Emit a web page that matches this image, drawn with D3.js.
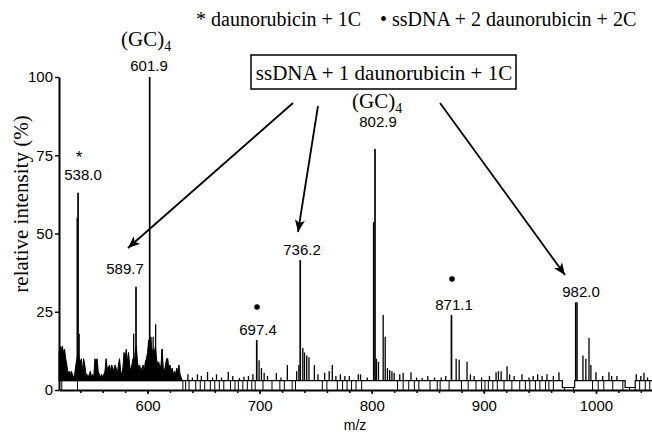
<!DOCTYPE html>
<html>
<head>
<meta charset="utf-8">
<script src="https://cdn.jsdelivr.net/npm/d3@7/dist/d3.min.js"></script>
<style>
  body { margin: 0; background: #fff; }
  .sans { font-family: "Liberation Sans", Arial, sans-serif; }
  .serif { font-family: "Liberation Serif", "Times New Roman", serif; }
</style>
</head>
<body>
<svg id="chart"></svg>
<script>
const width = 652;
const height = 433;

// labelled peaks: [m/z, intensity %, label]
const peaks = [
  [538.0, 63, "538.0"],
  [589.7, 33, "589.7"],
  [601.9, 100, "601.9"],
  [697.4, 16, "697.4"],
  [736.2, 41.5, "736.2"],
  [802.9, 77, "802.9"],
  [871.1, 24, "871.1"],
  [982.0, 28, "982.0"]
];

// dense profile from m/z 521 to 631, one value per unit
const denseStart = 521;
const dense = [
  12, 14, 13, 14, 12, 13, 10, 8,
  5, 6, 5, 6, 5, 4, 5,
  8, 10, 12, 10,
  9, 10, 6, 10, 8, 5,
  5, 4, 5, 6, 4, 5, 4,
  10, 9, 10, 6,
  5, 4, 5, 4, 5, 6,
  10, 7,
  7, 8, 6, 8, 7, 6, 8, 7, 5,
  8, 10, 6,
  5, 7,
  12, 10, 13, 9, 12, 8,
  6, 8,
  10, 8, 12, 14, 9,
  7, 8, 6, 7, 8, 6, 9,
  10, 12, 16, 14, 17, 12, 13,
  12, 14, 10,
  8, 9, 7, 8,
  13,
  7, 6, 8, 10,
  10, 7, 8,
  6, 7, 5, 6, 5,
  7, 6, 8, 5, 4, 3
];

// smaller peaks: [m/z, intensity %]
const sticks = [
  [537.2, 55], [539.0, 18], [587.6, 18], [605.0, 17], [607.2, 21], [613.0, 13],
  [636, 5], [640, 4], [644.5, 5], [648, 4.5], [653.5, 5.8], [658, 4], [661.5, 5],
  [666, 4], [672, 5.8], [676, 4.5], [682, 3.8], [686, 4.2], [690, 4.5], [694, 5],
  [699.5, 9.5], [701.6, 7], [704, 5.5], [707, 4.5], [714.9, 5.4], [719, 4],
  [724.7, 8], [733, 6], [735, 8], [738.5, 13.4], [740, 12], [742, 11], [744, 10.5],
  [748.8, 8], [752, 5], [758, 5.5], [762, 6], [764.8, 8], [768, 4.5], [772, 5],
  [776, 4.5], [780, 4.5], [788, 5], [790, 5], [796, 4], [801.6, 53.7], [804.2, 10],
  [806, 9], [810.2, 24], [812, 17], [814, 7], [816, 6.4], [818, 6], [820, 5.5],
  [825, 5], [828, 5.5], [835, 5.7], [840, 4], [845, 3.8], [850, 4.5], [856, 4],
  [862, 4], [866, 4.5], [875.3, 10], [878, 9.7], [885, 9], [888, 5], [891.3, 4.5],
  [898, 4], [905, 4.5], [910.9, 5.7], [913, 6], [915.4, 6], [920.7, 7.6], [923, 5],
  [927, 4.5], [934, 5], [940.3, 4], [944, 4.5], [948, 5], [952, 4.5], [956.3, 5],
  [962, 4.5], [967, 5.7], [983.2, 28], [988.4, 11], [991, 10], [993.8, 16.6],
  [995.5, 8], [1000, 5.7], [1006, 4.5], [1011.6, 5.7], [1014, 4.5], [1018.7, 4.5],
  [1036, 5], [1040, 4.5], [1042.8, 5.5], [1046, 4]
];

// places where the trace drops to zero
const dips = [
  523.5, 537.5, 631.5, 634, 637, 643, 647, 651, 656, 660, 664, 668, 674, 678, 681,
  685, 689, 693, 696, 703, 711, 718, 722, 729, 732, 755.9, 760, 769.3, 774, 778,
  782, 786, 791, 823, 828, 833, 838, 842, 852, 858.4, 861, 869, 880, 886, 893,
  898, 901, 904, 908, 912, 918, 925, 932, 937, 941, 946, 950, 955, 958, 962, 972,
  980, 997, 1002, 1007, 1015, 1024, 1030, 1035, 1039, 1044, 1048
];

// stretches where the baseline sits low
const lowStretches = [[970, 981], [1026, 1035]];
const baseLevel = 3;
const lowLevel = 0.8;

const xTicks = [600, 700, 800, 900, 1000];
const xMinorTicks = d3.range(540, 1050, 20);
const yTicks = [0, 25, 50, 75, 100];

const svg = d3.select("#chart")
  .attr("width", width)
  .attr("height", height);

const x = d3.scaleLinear().domain([521, 1050]).range([59, 652]);
const y = d3.scaleLinear().domain([0, 100]).range([390, 77]);

const baseAt = m => lowStretches.some(s => m >= s[0] && m <= s[1]) ? lowLevel : baseLevel;

// dense profile
const denseData = dense.map((v, i) => [denseStart + i, v]);
svg.append("path")
  .datum(denseData)
  .attr("fill", "#000")
  .attr("stroke", "#000")
  .attr("stroke-width", 1)
  .attr("stroke-linejoin", "miter")
  .attr("d", d3.area()
    .x(d => x(d[0]))
    .y0(y(baseLevel))
    .y1(d => y(d[1])));

// baseline with low stretches
const basePts = [[521, baseLevel]];
lowStretches.forEach(s => {
  basePts.push([s[0], baseLevel], [s[0], lowLevel], [s[1], lowLevel], [s[1], baseLevel]);
});
basePts.push([1050, baseLevel]);
svg.append("path")
  .datum(basePts)
  .attr("fill", "none")
  .attr("stroke", "#000")
  .attr("stroke-width", 1.2)
  .attr("d", d3.line().x(d => x(d[0])).y(d => y(d[1])));

// dips
svg.append("g").selectAll("line")
  .data(dips)
  .join("line")
  .attr("x1", d => x(d)).attr("x2", d => x(d))
  .attr("y1", y(0)).attr("y2", d => y(baseAt(d)))
  .attr("stroke", "#000")
  .attr("stroke-width", 1);

// small peaks
svg.append("g").selectAll("line")
  .data(sticks)
  .join("line")
  .attr("x1", d => x(d[0])).attr("x2", d => x(d[0]))
  .attr("y1", d => y(baseAt(d[0]))).attr("y2", d => y(d[1]))
  .attr("stroke", "#000")
  .attr("stroke-width", 1.3);

// main peaks
svg.append("g").selectAll("line")
  .data(peaks)
  .join("line")
  .attr("x1", d => x(d[0])).attr("x2", d => x(d[0]))
  .attr("y1", d => y(baseAt(d[0]))).attr("y2", d => y(d[1]))
  .attr("stroke", "#000")
  .attr("stroke-width", 1.7);

// axes
svg.append("g")
  .attr("transform", `translate(0, ${y(0)})`)
  .call(d3.axisBottom(x).tickValues(xTicks).tickSize(4).tickSizeOuter(0).tickPadding(6).tickFormat(d3.format("d")));
svg.append("g")
  .attr("transform", `translate(0, ${y(0)})`)
  .call(d3.axisBottom(x).tickValues(xMinorTicks).tickSize(3).tickSizeOuter(0).tickFormat(""))
  .call(g => g.select(".domain").remove());

svg.append("g")
  .attr("transform", `translate(${x(521)}, 0)`)
  .call(d3.axisLeft(y).tickValues(yTicks).tickSize(4).tickSizeOuter(0).tickPadding(2));

svg.selectAll(".domain").attr("stroke-width", 2);
svg.selectAll(".tick line").attr("stroke-width", 1.5);
svg.selectAll(".tick text")
  .attr("font-family", "Liberation Sans, Arial, sans-serif")
  .attr("font-size", 15)
  .attr("fill", "#000");

svg.append("text")
  .attr("class", "sans")
  .attr("x", 355).attr("y", 430)
  .attr("text-anchor", "middle")
  .attr("font-size", 14)
  .text("m/z");

svg.append("text")
  .attr("class", "serif")
  .attr("transform", "translate(28, 204) rotate(-90)")
  .attr("text-anchor", "middle")
  .attr("font-size", 21)
  .text("relative intensity (%)");

// peak labels
const labelPos = {
  "538.0": [83, 180],
  "589.7": [125, 274],
  "601.9": [149, 71],
  "697.4": [258, 335],
  "736.2": [302, 255],
  "802.9": [378, 127],
  "871.1": [454, 310],
  "982.0": [581, 297]
};
svg.append("g").selectAll("text")
  .data(peaks)
  .join("text")
  .attr("class", "sans")
  .attr("x", d => labelPos[d[2]][0])
  .attr("y", d => labelPos[d[2]][1])
  .attr("text-anchor", "middle")
  .attr("font-size", 15)
  .text(d => d[2]);

// markers over peaks
svg.append("text")
  .attr("class", "sans")
  .attr("x", 79).attr("y", 163)
  .attr("text-anchor", "middle")
  .attr("font-size", 17)
  .text("*");
svg.append("circle").attr("cx", 257).attr("cy", 307).attr("r", 2.8);
svg.append("circle").attr("cx", 452).attr("cy", 279).attr("r", 2.8);

// (GC)4 labels
[[121, 46], [352, 108]].forEach(p => {
  const t = svg.append("text")
    .attr("class", "serif")
    .attr("x", p[0]).attr("y", p[1])
    .attr("font-size", 21);
  t.append("tspan").text("(GC)");
  t.append("tspan").attr("font-size", 14).attr("dy", 5).text("4");
});

// legend
svg.append("text")
  .attr("class", "serif")
  .attr("x", 196).attr("y", 26)
  .attr("font-size", 20)
  .text("* daunorubicin + 1C");
svg.append("text")
  .attr("class", "serif")
  .attr("x", 380).attr("y", 26)
  .attr("font-size", 20)
  .text("• ssDNA + 2 daunorubicin + 2C");

// boxed note
svg.append("rect")
  .attr("x", 251).attr("y", 55)
  .attr("width", 265).attr("height", 34)
  .attr("fill", "#fff")
  .attr("stroke", "#000")
  .attr("stroke-width", 1.5);
svg.append("text")
  .attr("class", "serif")
  .attr("x", 384).attr("y", 80)
  .attr("text-anchor", "middle")
  .attr("font-size", 21)
  .text("ssDNA + 1 daunorubicin + 1C");

// arrows
svg.append("defs").append("marker")
  .attr("id", "head")
  .attr("viewBox", "0 0 12 10")
  .attr("refX", 12).attr("refY", 5)
  .attr("markerWidth", 13).attr("markerHeight", 10)
  .attr("markerUnits", "userSpaceOnUse")
  .attr("orient", "auto")
  .append("path")
  .attr("d", "M0,0 L12,5 L0,10 L3,5 Z")
  .attr("fill", "#000");

const arrows = [
  [[293, 103], [128, 248]],
  [[318, 106], [298, 232]],
  [[440, 103], [565, 275]]
];
svg.append("g").selectAll("line")
  .data(arrows)
  .join("line")
  .attr("x1", d => d[0][0]).attr("y1", d => d[0][1])
  .attr("x2", d => d[1][0]).attr("y2", d => d[1][1])
  .attr("stroke", "#000")
  .attr("stroke-width", 1.8)
  .attr("marker-end", "url(#head)");
</script>
</body>
</html>
